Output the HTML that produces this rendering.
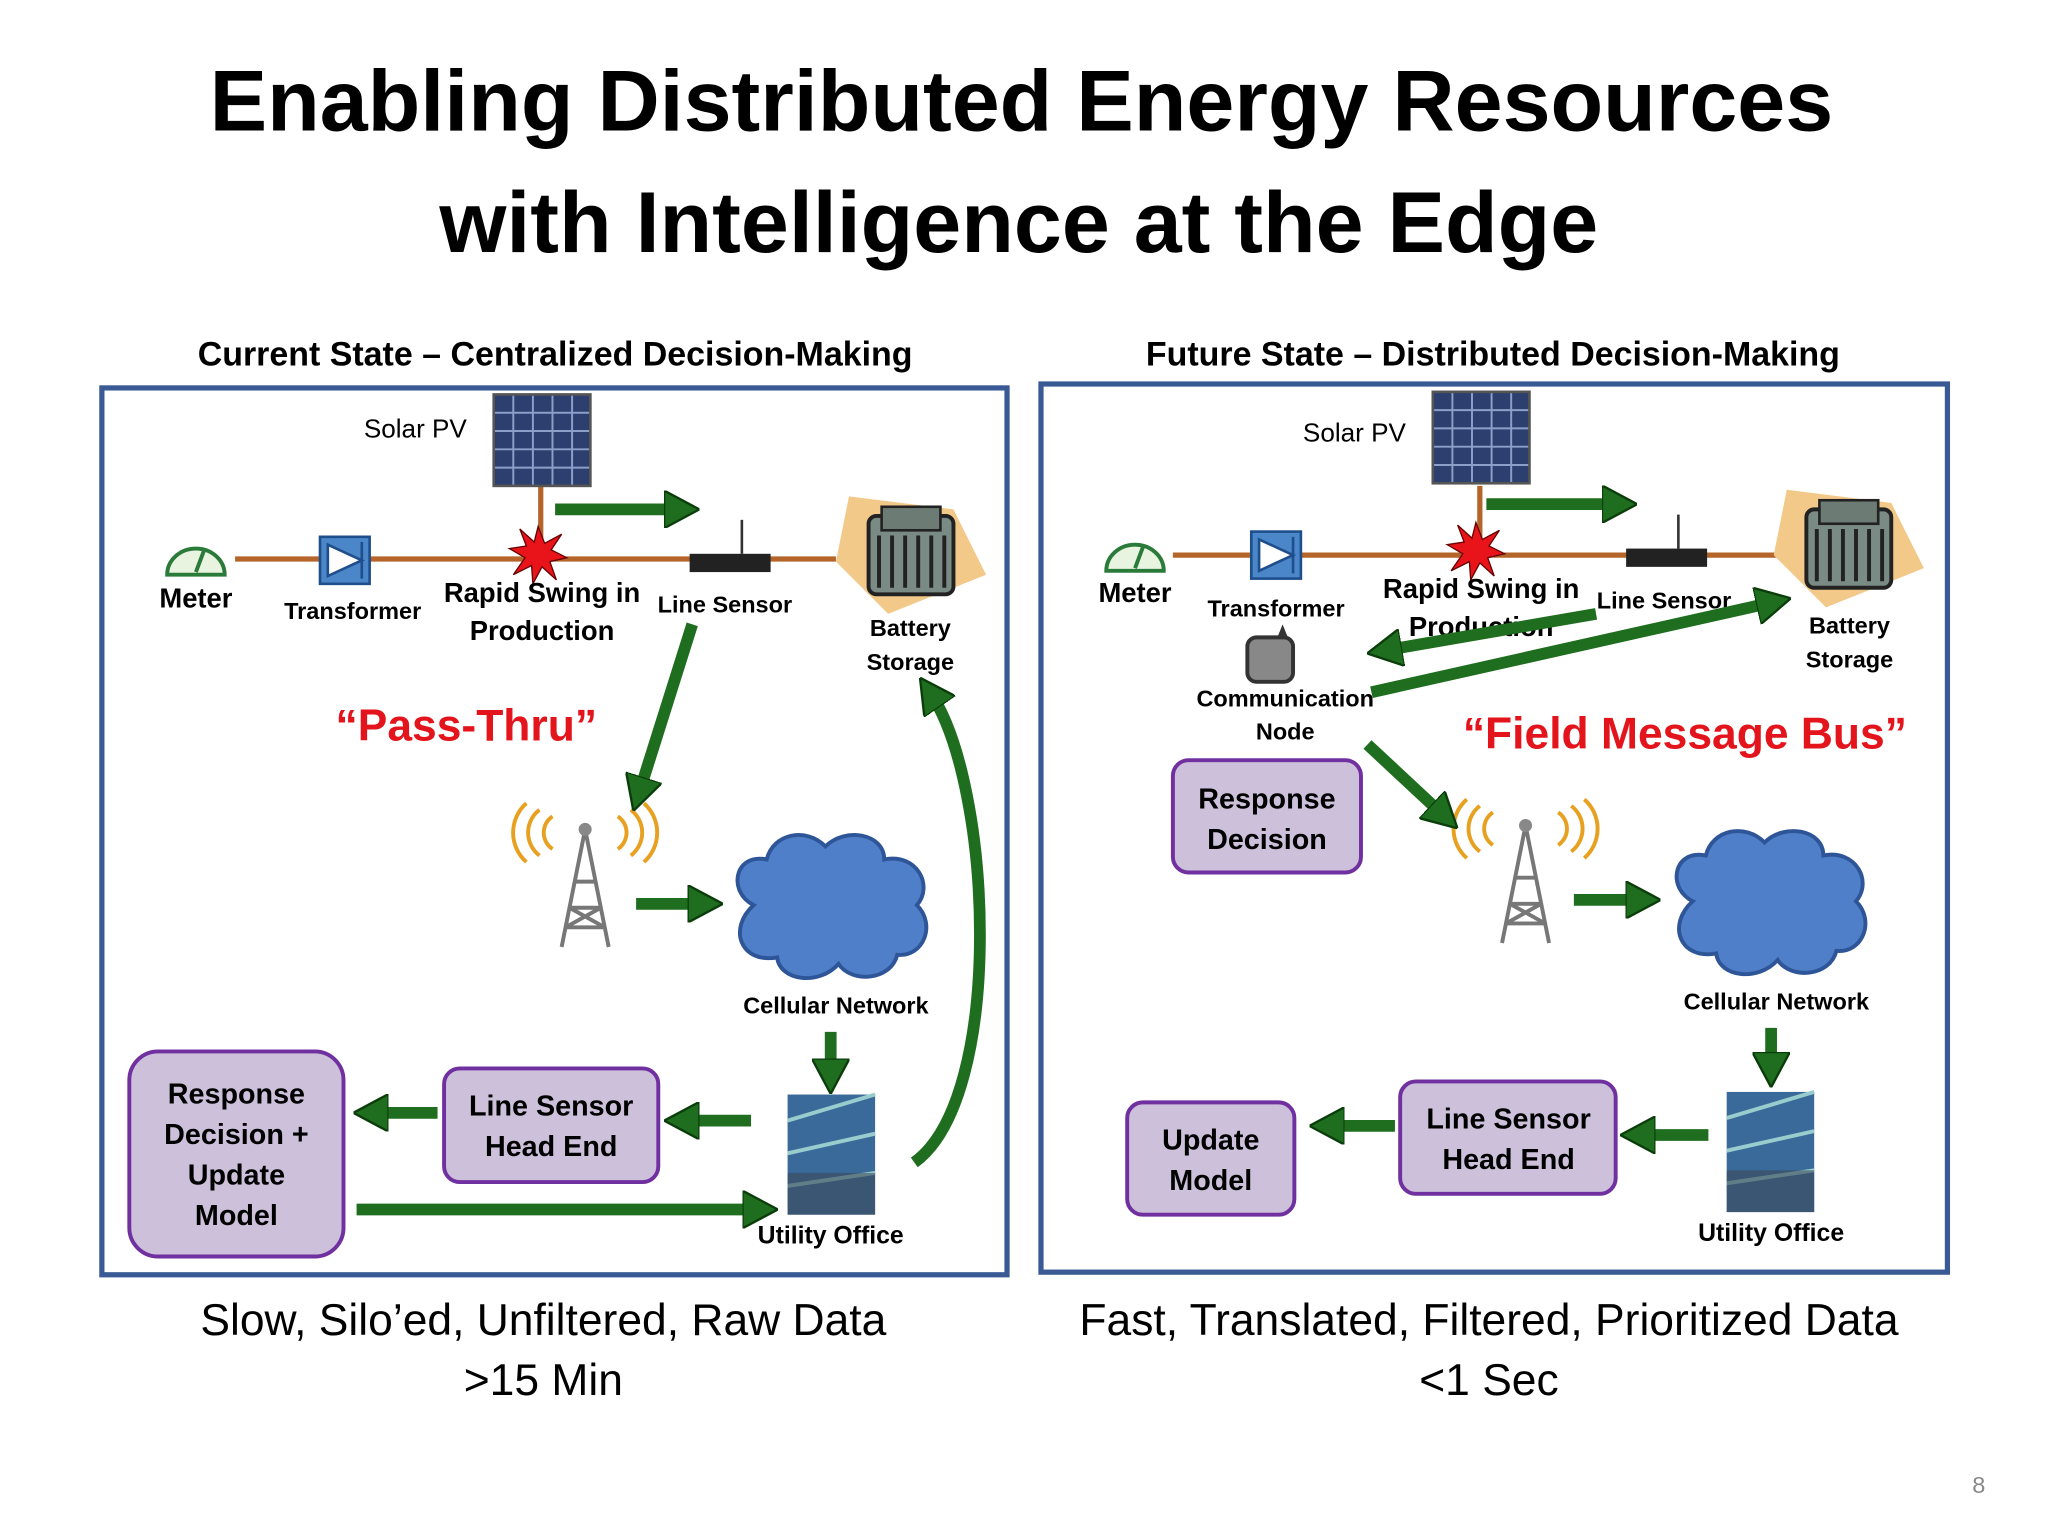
<!DOCTYPE html>
<html><head><meta charset="utf-8"><style>
html,body{margin:0;padding:0;background:#fff;}
svg{display:block;}
text{font-family:"Liberation Sans",sans-serif;}
.b{font-weight:bold;}
</style></head><body>
<svg width="2048" height="1536" viewBox="0 0 1568 1176" xmlns="http://www.w3.org/2000/svg">
<defs>
<marker id="ah" markerWidth="3" markerHeight="3.2" refX="1.5" refY="1.6" orient="auto" markerUnits="strokeWidth">
<path d="M0,0 L3,1.6 L0,3.2 z" fill="#1f6e1f" stroke="#0b3d0b" stroke-width="0.2"/></marker>
<g id="cloud"><path d="M20,60 C0,50 5,20 30,25 C35,5 60,0 75,15 C90,0 120,5 120,25 C145,20 158,45 145,60 C160,75 150,100 130,98 C125,118 95,120 85,105 C70,122 40,118 38,100 C10,105 0,78 20,60 Z" fill="#4f7fc8" stroke="#2e5597" stroke-width="3"/></g>
<g id="panel"><rect x="0" y="0" width="74" height="70" fill="#2d3f6e"/><path d="M0,14H74M0,28H74M0,42H74M0,56H74M15,0V70M30,0V70M45,0V70M60,0V70" stroke="#8aa0c8" stroke-width="1.5"/><rect x="0" y="0" width="74" height="70" fill="none" stroke="#555" stroke-width="2"/></g>
<g id="meter"><path d="M-22,10 A22,20 0 0 1 22,10 Z" fill="#e8f4e0" stroke="#2a7a3a" stroke-width="3"/><line x1="0" y1="8" x2="6" y2="-8" stroke="#2a7a3a" stroke-width="3"/></g>
<g id="xf"><rect x="0" y="0" width="38" height="36" fill="#4a86c8" stroke="#1f4e8c" stroke-width="2"/><path d="M6,6 L32,18 L6,30 Z M32,4 V32" fill="#fff" stroke="#1f4e8c" stroke-width="2"/></g>
<g id="star"><polygon points="0,-22 5,-9 18,-16 10,-4 22,2 9,5 14,19 3,9 -4,22 -5,8 -19,15 -10,2 -22,-5 -9,-7 -14,-20 -3,-10" fill="#e8141a" stroke="#600" stroke-width="1"/></g>
<g id="sensor"><rect x="0" y="4" width="62" height="14" fill="#222"/><line x1="40" y1="4" x2="40" y2="-22" stroke="#333" stroke-width="2"/></g>
<g id="battery"><polygon points="10,0 90,10 115,60 40,90 0,50" fill="#f3c98a"/><rect x="25" y="15" width="65" height="60" rx="6" fill="#7a8a85" stroke="#222" stroke-width="3"/><path d="M33,30V70M43,30V70M53,30V70M63,30V70M73,30V70M83,30V70" stroke="#222" stroke-width="3"/><rect x="35" y="8" width="45" height="18" fill="#6c7c75" stroke="#222" stroke-width="2"/></g>
<g id="tower"><path d="M0,-45 L-18,45 M0,-45 L18,45 M-12,15 L12,15 M-8,-5 L8,-5 M-15,30 L15,30 M-12,15 L15,30 M12,15 L-15,30" stroke="#777" stroke-width="3" fill="none"/><circle cx="0" cy="-45" r="5" fill="#888"/><path d="M-25,-55 A15,15 0 0 0 -25,-30 M-35,-60 A22,22 0 0 0 -35,-25 M-45,-65 A30,30 0 0 0 -45,-20 M25,-55 A15,15 0 0 1 25,-30 M35,-60 A22,22 0 0 1 35,-25 M45,-65 A30,30 0 0 1 45,-20" stroke="#e8a020" stroke-width="3" fill="none"/></g>
<g id="bldg"><rect x="0" y="0" width="67" height="92" fill="#3a6a9a"/><path d="M0,20L67,0M0,45L67,30M0,70L67,60" stroke="#9cc" stroke-width="3"/><rect x="0" y="60" width="67" height="32" fill="#3b4a5a" opacity="0.6"/></g>
</defs>

<text x="782" y="100" font-size="66" class="b" text-anchor="middle">Enabling Distributed Energy Resources</text>
<text x="780" y="193" font-size="66" class="b" text-anchor="middle">with Intelligence at the Edge</text>
<text x="425" y="280" font-size="26" class="b" text-anchor="middle">Current State – Centralized Decision-Making</text>
<text x="1143" y="280" font-size="26" class="b" text-anchor="middle">Future State – Distributed Decision-Making</text>

<rect x="78" y="297" width="693" height="679" fill="none" stroke="#3a5a95" stroke-width="4"/>
<rect x="797" y="294" width="694" height="680" fill="none" stroke="#3a5a95" stroke-width="4"/>

<path d="M180,428H640M414,372V428" stroke="#b5652a" stroke-width="4" fill="none"/>
<use href="#panel" x="378" y="302"/>
<text x="318" y="335" font-size="20" text-anchor="middle">Solar PV</text>
<use href="#meter" x="150" y="430"/>
<text x="150" y="465" font-size="21" class="b" text-anchor="middle">Meter</text>
<use href="#xf" x="245" y="411"/>
<text x="270" y="474" font-size="18" class="b" text-anchor="middle">Transformer</text>
<use href="#star" x="412" y="425"/>
<text x="415" y="461" font-size="21" class="b" text-anchor="middle">Rapid Swing in</text>
<text x="415" y="490" font-size="21" class="b" text-anchor="middle">Production</text>
<use href="#sensor" x="528" y="420"/>
<text x="555" y="469" font-size="18" class="b" text-anchor="middle">Line Sensor</text>
<use href="#battery" x="640" y="380"/>
<text x="697" y="487" font-size="18" class="b" text-anchor="middle">Battery</text>
<text x="697" y="513" font-size="18" class="b" text-anchor="middle">Storage</text>
<text x="357" y="567" font-size="34" class="b" fill="#e3141b" text-anchor="middle">“Pass-Thru”</text>
<use href="#tower" x="448" y="680"/>
<use href="#cloud" x="557" y="633"/>
<text x="640" y="776" font-size="18" class="b" text-anchor="middle">Cellular Network</text>
<use href="#bldg" x="603" y="838"/>
<text x="636" y="952" font-size="19" class="b" text-anchor="middle">Utility Office</text>
<rect x="340" y="818" width="164" height="87" rx="12" fill="#ccc0da" stroke="#7030a0" stroke-width="3"/>
<text x="422" y="854" font-size="22" class="b" text-anchor="middle">Line Sensor</text>
<text x="422" y="885" font-size="22" class="b" text-anchor="middle">Head End</text>
<rect x="99" y="805" width="164" height="157" rx="22" fill="#ccc0da" stroke="#7030a0" stroke-width="3"/>
<text x="181" y="845" font-size="22" class="b" text-anchor="middle">Response</text>
<text x="181" y="876" font-size="22" class="b" text-anchor="middle">Decision +</text>
<text x="181" y="907" font-size="22" class="b" text-anchor="middle">Update</text>
<text x="181" y="938" font-size="22" class="b" text-anchor="middle">Model</text>
<text x="416" y="1022" font-size="34" text-anchor="middle">Slow, Silo’ed, Unfiltered, Raw Data</text>
<text x="416" y="1068" font-size="34" text-anchor="middle">&gt;15 Min</text>

<path d="M898,425H1360M1133,372V425" stroke="#b5652a" stroke-width="4" fill="none"/>
<use href="#panel" x="1097" y="300"/>
<text x="1037" y="338" font-size="20" text-anchor="middle">Solar PV</text>
<use href="#meter" x="869" y="427"/>
<text x="869" y="461" font-size="21" class="b" text-anchor="middle">Meter</text>
<use href="#xf" x="958" y="407"/>
<text x="977" y="472" font-size="18" class="b" text-anchor="middle">Transformer</text>
<use href="#star" x="1130" y="422"/>
<text x="1134" y="458" font-size="21" class="b" text-anchor="middle">Rapid Swing in</text>
<text x="1134" y="487" font-size="21" class="b" text-anchor="middle">Production</text>
<use href="#sensor" x="1245" y="416"/>
<text x="1274" y="466" font-size="18" class="b" text-anchor="middle">Line Sensor</text>
<use href="#battery" x="1358" y="375"/>
<text x="1416" y="485" font-size="18" class="b" text-anchor="middle">Battery</text>
<text x="1416" y="511" font-size="18" class="b" text-anchor="middle">Storage</text>
<rect x="955" y="488" width="35" height="34" rx="7" fill="#888" stroke="#333" stroke-width="3"/>
<path d="M978,488 L982,478 L986,488" fill="#333"/>
<text x="984" y="541" font-size="18" class="b" text-anchor="middle">Communication</text>
<text x="984" y="566" font-size="18" class="b" text-anchor="middle">Node</text>
<text x="1290" y="573" font-size="34" class="b" fill="#e3141b" text-anchor="middle">“Field Message Bus”</text>
<rect x="898" y="582" width="144" height="86" rx="12" fill="#ccc0da" stroke="#7030a0" stroke-width="3"/>
<text x="970" y="619" font-size="22" class="b" text-anchor="middle">Response</text>
<text x="970" y="650" font-size="22" class="b" text-anchor="middle">Decision</text>
<use href="#tower" x="1168" y="677"/>
<use href="#cloud" x="1276" y="630"/>
<text x="1360" y="773" font-size="18" class="b" text-anchor="middle">Cellular Network</text>
<use href="#bldg" x="1322" y="836"/>
<text x="1356" y="950" font-size="19" class="b" text-anchor="middle">Utility Office</text>
<rect x="1072" y="828" width="165" height="86" rx="12" fill="#ccc0da" stroke="#7030a0" stroke-width="3"/>
<text x="1155" y="864" font-size="22" class="b" text-anchor="middle">Line Sensor</text>
<text x="1155" y="895" font-size="22" class="b" text-anchor="middle">Head End</text>
<rect x="863" y="844" width="128" height="86" rx="12" fill="#ccc0da" stroke="#7030a0" stroke-width="3"/>
<text x="927" y="880" font-size="22" class="b" text-anchor="middle">Update</text>
<text x="927" y="911" font-size="22" class="b" text-anchor="middle">Model</text>
<text x="1140" y="1022" font-size="34" text-anchor="middle">Fast, Translated, Filtered, Prioritized Data</text>
<text x="1140" y="1068" font-size="34" text-anchor="middle">&lt;1 Sec</text>
<text x="1515" y="1143" font-size="18" fill="#888" text-anchor="middle">8</text>

<g stroke="#1f6e1f" stroke-width="9" fill="none" marker-end="url(#ah)">
<line x1="425" y1="390" x2="522" y2="390"/>
<line x1="530" y1="478" x2="489" y2="608"/>
<line x1="487" y1="692" x2="540" y2="692"/>
<line x1="636" y1="790" x2="636" y2="824"/>
<path d="M700,890 C770,840 760,600 712,530"/>
<line x1="575" y1="858" x2="522" y2="858"/>
<line x1="335" y1="852" x2="284" y2="852"/>
<line x1="273" y1="926" x2="582" y2="926"/>

<line x1="1138" y1="386" x2="1240" y2="386"/>
<line x1="1222" y1="470" x2="1060" y2="498"/>
<line x1="1050" y1="530" x2="1358" y2="461"/>
<line x1="1047" y1="570" x2="1106" y2="625"/>
<line x1="1205" y1="689" x2="1258" y2="689"/>
<line x1="1356" y1="787" x2="1356" y2="819"/>
<line x1="1308" y1="869" x2="1254" y2="869"/>
<line x1="1068" y1="862" x2="1016" y2="862"/>
</g>
</svg>
</body></html>
